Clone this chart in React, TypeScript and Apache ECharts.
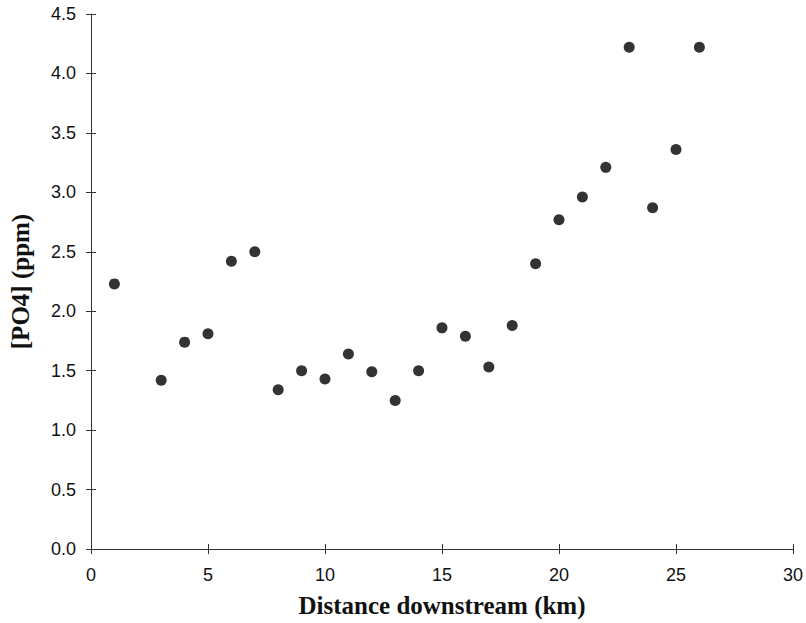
import React, { useEffect, useRef } from "react";
import * as echarts from "echarts";

const distanceKm = [1, 3, 4, 5, 6, 7, 8, 9, 10, 11, 12, 13, 14, 15, 16, 17, 18, 19, 20, 21, 22, 23, 24, 25, 26];
const po4Ppm = [2.23, 1.42, 1.74, 1.81, 2.42, 2.5, 1.34, 1.5, 1.43, 1.64, 1.49, 1.25, 1.5, 1.86, 1.79, 1.53, 1.88, 2.4, 2.77, 2.96, 3.21, 4.22, 2.87, 3.36, 4.22];
const xTitle = "Distance downstream (km)";
const yTitle = "[PO4] (ppm)";

export default function App() {
  const ref = useRef<HTMLDivElement>(null);
  useEffect(() => {
    if (!ref.current) return;
    const chart = echarts.init(ref.current, undefined, { renderer: "svg" });
    const axisColor = "#333";
    const labelStyle = { fontFamily: "Liberation Sans, Arial, sans-serif", fontSize: 18, color: "#111" };
    const titleStyle = { fontFamily: "Liberation Serif, Times New Roman, serif", fontSize: 25, fontWeight: "bold" as const, color: "#111" };
    chart.setOption({
      animation: false,
      backgroundColor: "#fff",
      grid: { left: 90, right: 13, top: 14, bottom: 71, containLabel: false },
      xAxis: [
        {
          type: "value",
          min: 0,
          max: 30,
          interval: 5,
          name: xTitle,
          nameLocation: "middle",
          nameGap: 44,
          nameTextStyle: titleStyle,
          axisLine: { show: true, onZero: false, lineStyle: { color: axisColor, width: 1 } },
          axisTick: { show: true, inside: false, length: 5, lineStyle: { color: axisColor } },
          axisLabel: { ...labelStyle, margin: 17 },
          splitLine: { show: false },
        },
        {
          type: "value",
          min: 0,
          max: 30,
          interval: 5,
          position: "bottom",
          axisLine: { show: false },
          axisTick: { show: true, inside: true, length: 5, lineStyle: { color: axisColor } },
          axisLabel: { show: false },
          splitLine: { show: false },
        },
      ],
      yAxis: [
        {
          type: "value",
          min: 0,
          max: 4.5,
          interval: 0.5,
          name: yTitle,
          nameLocation: "middle",
          nameGap: 58,
          nameRotate: 90,
          nameTextStyle: titleStyle,
          axisLine: { show: true, onZero: false, lineStyle: { color: axisColor, width: 1 } },
          axisTick: { show: true, inside: false, length: 5, lineStyle: { color: axisColor } },
          axisLabel: { ...labelStyle, margin: 15, formatter: (v: number) => v.toFixed(1) },
          splitLine: { show: false },
        },
        {
          type: "value",
          min: 0,
          max: 4.5,
          interval: 0.5,
          position: "left",
          axisLine: { show: false },
          axisTick: { show: true, inside: true, length: 5, lineStyle: { color: axisColor } },
          axisLabel: { show: false },
          splitLine: { show: false },
        },
      ],
      series: [
        {
          type: "scatter",
          xAxisIndex: 0,
          yAxisIndex: 0,
          symbol: "circle",
          symbolSize: 11,
          itemStyle: { color: "#000" },
          data: distanceKm.map((x, i) => [x, po4Ppm[i]]),
        },
      ],
    });
    return () => chart.dispose();
  }, []);
  return <div ref={ref} style={{ position: "fixed", left: 0, top: 0, width: 806, height: 623 }} />;
}
